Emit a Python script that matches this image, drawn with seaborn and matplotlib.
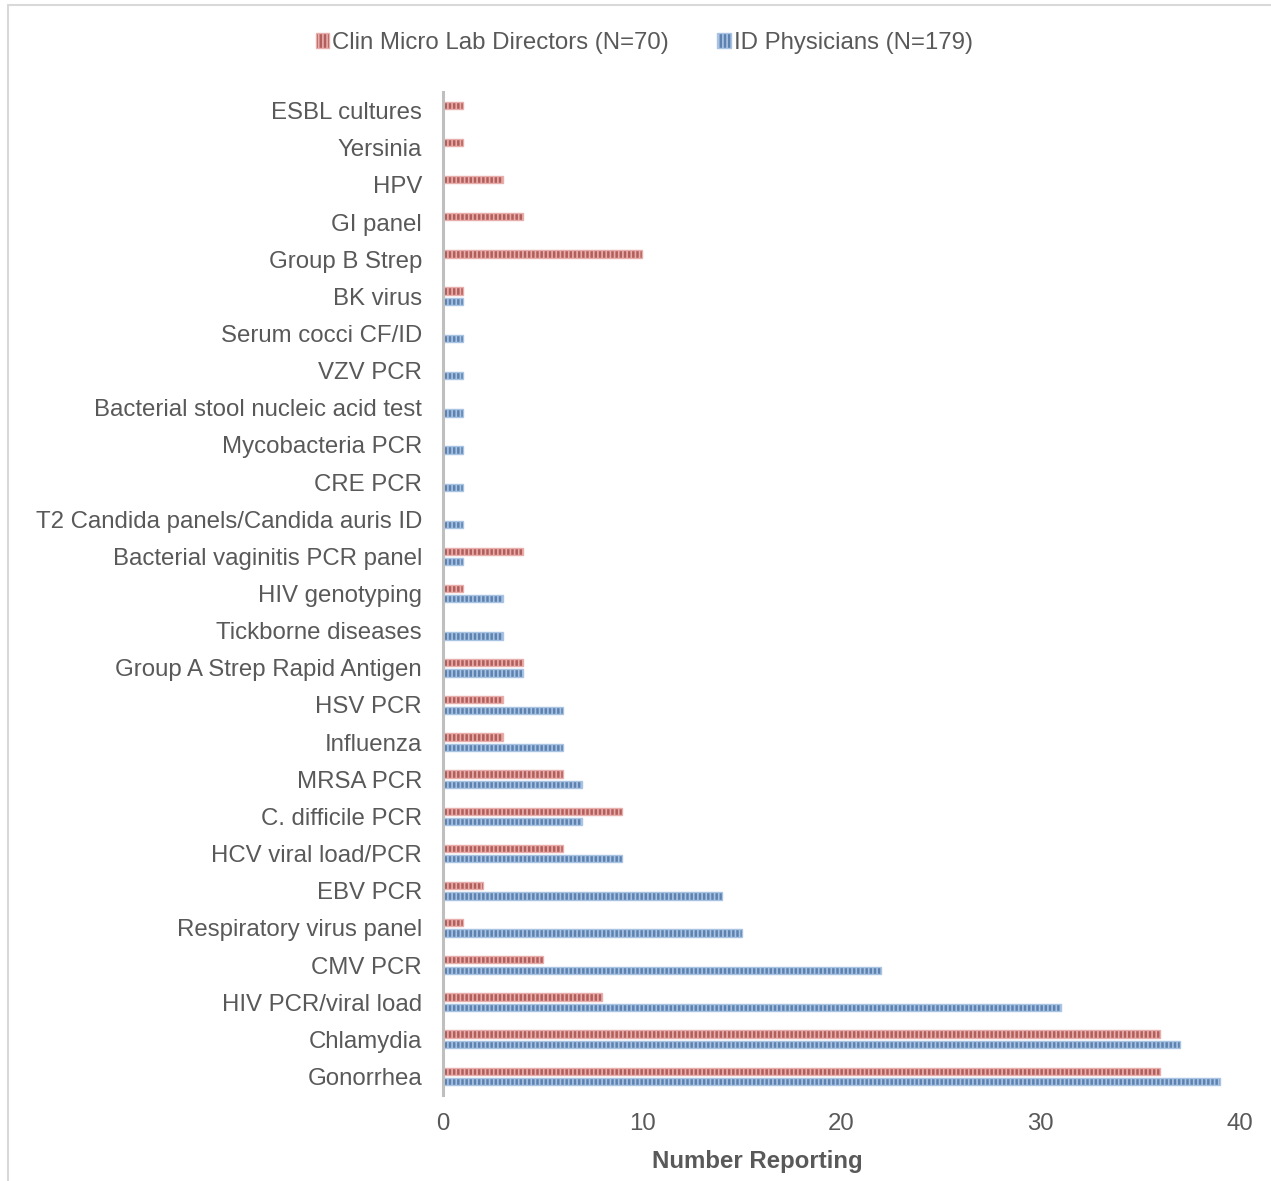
import matplotlib
matplotlib.use("Agg")
import matplotlib.pyplot as plt
from matplotlib.patches import Rectangle
import seaborn as sns
import pandas as pd

tests = [
    "ESBL cultures", "Yersinia", "HPV", "GI panel", "Group B Strep", "BK virus",
    "Serum cocci CF/ID", "VZV PCR", "Bacterial stool nucleic acid test",
    "Mycobacteria PCR", "CRE PCR", "T2 Candida panels/Candida auris ID",
    "Bacterial vaginitis PCR panel", "HIV genotyping", "Tickborne diseases",
    "Group A Strep Rapid Antigen", "HSV PCR", "Influenza", "MRSA PCR",
    "C. difficile PCR", "HCV viral load/PCR", "EBV PCR", "Respiratory virus panel",
    "CMV PCR", "HIV PCR/viral load", "Chlamydia", "Gonorrhea",
]
lab_directors = [1, 1, 3, 4, 10, 1, 0, 0, 0, 0, 0, 0, 4, 1, 0, 4, 3, 3, 6, 9, 6, 2, 1, 5, 8, 36, 36]
id_physicians = [0, 0, 0, 0, 0, 1, 1, 1, 1, 1, 1, 1, 1, 3, 3, 4, 6, 6, 7, 7, 9, 14, 15, 22, 31, 37, 39]
groups = ["Clin Micro Lab Directors (N=70)", "ID Physicians (N=179)"]

df = pd.DataFrame({
    "test": tests * 2,
    "count": lab_directors + id_physicians,
    "group": [groups[0]] * len(tests) + [groups[1]] * len(tests),
})

sns.set_theme(style="white")
plt.rcParams["font.family"] = ["Liberation Sans", "DejaVu Sans"]
plt.rcParams["hatch.linewidth"] = 1.2

fig = plt.figure(figsize=(12.71, 11.81), dpi=100)
ax = fig.add_axes([0.3485, 0.0728, 0.6271, 0.8493])

fills = ["#C0504D", "#4F81BD"]
stripes = ["#E8AEAC", "#A9C3E3"]
sns.barplot(data=df, y="test", x="count", hue="group", hue_order=groups,
            order=tests, orient="h", palette=fills, width=0.56, gap=0.3,
            ax=ax, legend=False, linewidth=1.0)

for cont, sc in zip(ax.containers, stripes):
    for p in cont:
        p.set_hatch("||||")
        p.set_edgecolor(sc)

ax.set_xlim(0, 40)
ax.set_ylim(len(tests) - 0.5, -0.5)
ax.set_xticks([0, 10, 20, 30, 40])
ax.tick_params(axis="x", labelsize=17.3, labelcolor="#595959", length=0, pad=13)
ax.tick_params(axis="y", labelsize=17.3, labelcolor="#595959", length=0, pad=15)
ax.set_ylabel("")
ax.set_xlabel("Number Reporting", fontsize=17.3, fontweight="bold", color="#595959")
ax.xaxis.set_label_coords(0.394, -0.055)
for s in ["top", "right", "bottom"]:
    ax.spines[s].set_visible(False)
ax.spines["left"].set_color("#BFBFBF")
ax.spines["left"].set_linewidth(2.2)
ax.grid(False)

fig.legend(handles=list(ax.containers), labels=groups, loc="center",
           bbox_to_anchor=(0.507, 1 - 43 / 1181), ncol=2, frameon=False,
           fontsize=17.3, labelcolor="#595959", handlelength=0.55, handleheight=0.55,
           handletextpad=0.15, columnspacing=2.0)

fig.patches.append(Rectangle((8 / 1271, -0.1), 1.2, 1.1 - 5 / 1181,
                             transform=fig.transFigure, fill=False,
                             edgecolor="#D9D9D9", linewidth=1.5))

fig.savefig("out.png", dpi=100)
